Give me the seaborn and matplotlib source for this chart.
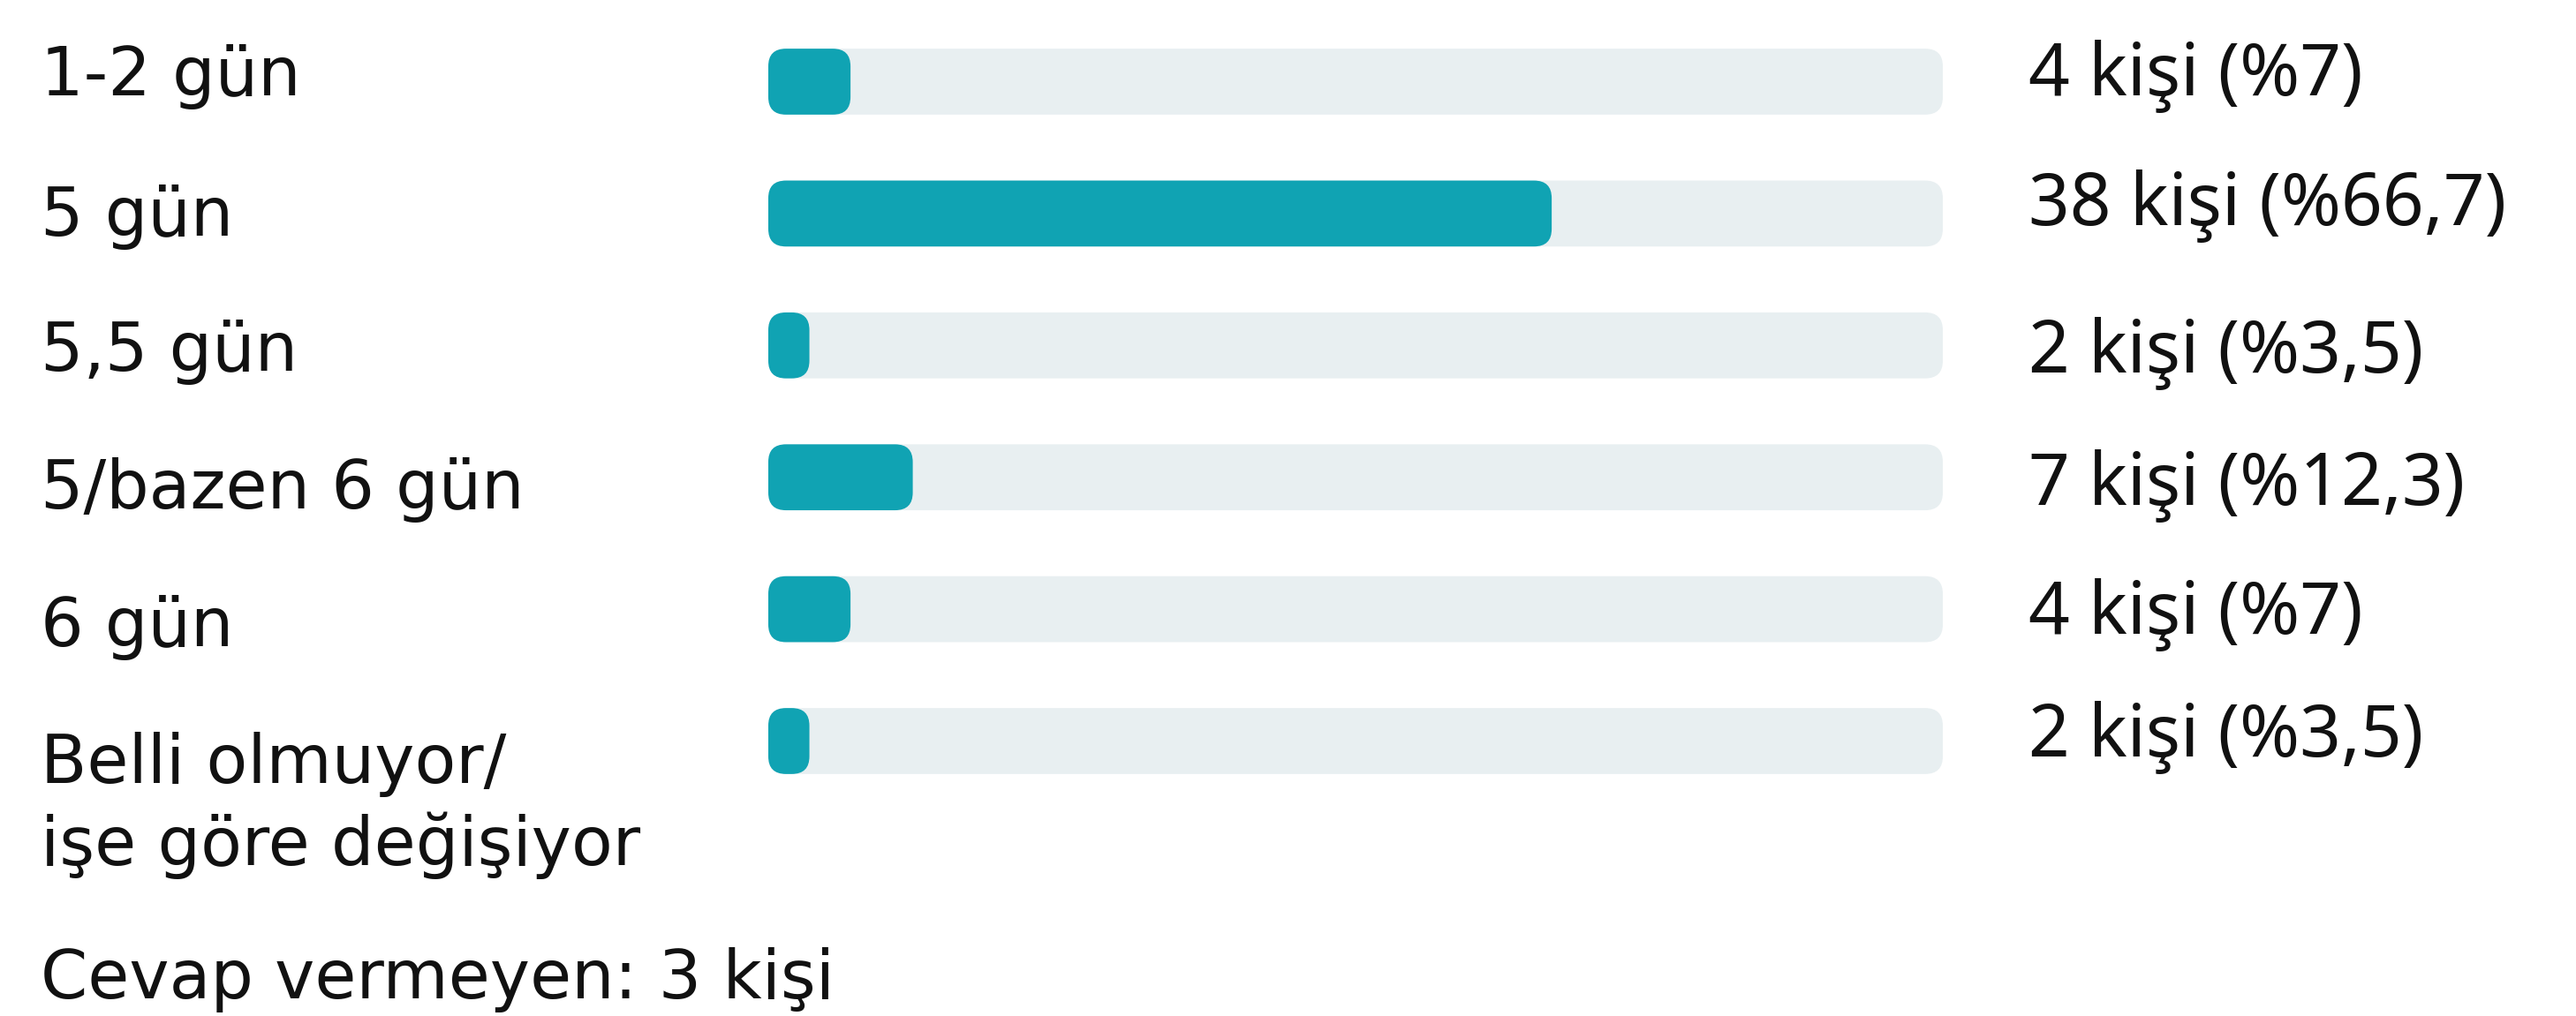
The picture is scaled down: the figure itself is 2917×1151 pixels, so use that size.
import matplotlib
matplotlib.use("Agg")
import matplotlib.pyplot as plt
from matplotlib.patches import FancyBboxPatch
import seaborn as sns
import pandas as pd

# ---- data ----
categories = ["1-2 gün", "5 gün", "5,5 gün", "5/bazen 6 gün", "6 gün",
              "Belli olmuyor/\nişe göre değişiyor"]
counts = [4, 38, 2, 7, 4, 2]
percents = [7, 66.7, 3.5, 12.3, 7, 3.5]
percent_labels = ["%7", "%66,7", "%3,5", "%12,3", "%7", "%3,5"]
no_answer_label = "Cevap vermeyen: 3 kişi"

# ---- layout / style ----
W, H = 2917, 1151
DPI = 100
FILL = "#10A3B3"
TRACK = "#E8EFF1"
TXT = "#111111"
FS_LEFT = 55
FS_RIGHT = 59
LEFT_FONT = ["DejaVu Sans"]
RIGHT_FONT = ["Noto Sans", "DejaVu Sans"]
left_baselines_px = [108, 267, 420, 576, 732, 887]
left_line_gap_px = 93
right_baselines_px = [108, 255, 422, 572, 718, 857]
footer_baseline_px = 1131
left_text_x_px = 46
right_text_x_px = 2297

sns.set_theme(style="white")
plt.rcParams['font.family'] = ['Noto Sans', 'DejaVu Sans']

fig = plt.figure(figsize=(W / DPI, H / DPI), dpi=DPI)
fig.patch.set_facecolor("white")

left_px, right_px = 870, 2200
row0_c, row_last_c = 92.5, 839.5
row_step = (row_last_c - row0_c) / 5
top_px = row0_c - row_step / 2
bot_px = top_px + 6 * row_step
ax = fig.add_axes([left_px / W, 1 - bot_px / H, (right_px - left_px) / W, (bot_px - top_px) / H])

df = pd.DataFrame({"cat": categories, "pct": percents, "track": [100] * len(categories)})
sns.barplot(data=df, y="cat", x="track", color=TRACK, width=0.5, saturation=1, ax=ax)
sns.barplot(data=df, y="cat", x="pct", color=FILL, width=0.5, saturation=1, ax=ax)
ax.set_xlim(0, 100)
ax.set_ylim(5.5, -0.5)
ax.axis("off")

# round the bar corners
px_per_x = (right_px - left_px) / 100.0
px_per_y = row_step
radius_px = 20
aspect = px_per_x / px_per_y
for p in list(ax.patches):
    x, y = p.get_x(), p.get_y()
    w, h = p.get_width(), p.get_height()
    fc = p.get_facecolor()
    r = min(radius_px / px_per_x, w / 2)
    fb = FancyBboxPatch((x, y), w, h,
                        boxstyle=f"round,pad=0,rounding_size={r}",
                        mutation_aspect=aspect, facecolor=fc, edgecolor="none",
                        zorder=p.get_zorder())
    p.remove()
    ax.add_patch(fb)

for i, cat in enumerate(categories):
    for j, ln in enumerate(cat.split("\n")):
        yb = left_baselines_px[i] + j * left_line_gap_px
        fig.text(left_text_x_px / W, 1 - yb / H, ln, fontsize=FS_LEFT, color=TXT,
                 family=LEFT_FONT, va="baseline", ha="left")
    fig.text(right_text_x_px / W, 1 - right_baselines_px[i] / H,
             f"{counts[i]} kişi ({percent_labels[i]})",
             fontsize=FS_RIGHT, color=TXT, family=RIGHT_FONT, va="baseline", ha="left")

fig.text(left_text_x_px / W, 1 - footer_baseline_px / H, no_answer_label,
         fontsize=FS_LEFT, color=TXT, family=LEFT_FONT, va="baseline", ha="left")

fig.savefig("out.png", dpi=DPI, facecolor="white")
